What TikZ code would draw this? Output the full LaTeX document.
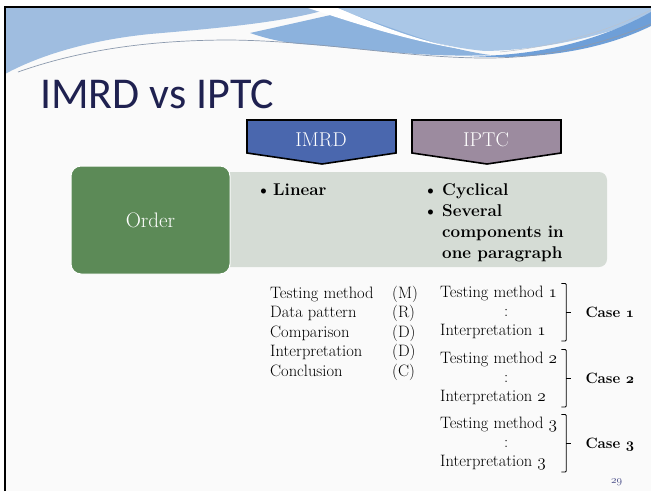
\documentclass[tikz,border=0pt]{standalone}
\usepackage{fontspec}
\newfontfamily\titlefont{Carlito}
\usetikzlibrary{positioning}
\definecolor{slidebg}{HTML}{FAFAFA}
\definecolor{titlenavy}{HTML}{1F2150}
\definecolor{pagenavy}{HTML}{4B4F8A}
\definecolor{imrdblue}{HTML}{4A67AE}
\definecolor{iptcmauve}{HTML}{9C8B9F}
\definecolor{ordergreen}{HTML}{5C8A57}
\definecolor{bandgrey}{HTML}{D5DCD5}
\definecolor{wavelight}{HTML}{9FBDE0}
\definecolor{wavepale}{HTML}{AAC7E7}
\definecolor{wavemid}{HTML}{8CB2DD}
\definecolor{wavedark}{HTML}{6E9FD8}
\definecolor{waveline}{HTML}{8C9AAE}
% old style figures taken from the math italic font
\newcommand{\osn}[1]{\ensuremath{\mathnormal{#1}}}
\newcommand{\bosn}[1]{{\boldmath\ensuremath{\mathnormal{#1}}}}

\begin{document}
\begin{tikzpicture}[x=1pt,y=-1pt,
    lst/.style={anchor=base west,inner sep=0pt,font=\fontsize{16.5}{19.5}\selectfont},
    bul/.style={anchor=base west,inner sep=0pt,font=\fontsize{17}{21}\selectfont\bfseries},
    head/.style={draw=black,line width=1.6pt},
    headtxt/.style={text=white,inner sep=0pt,font=\fontsize{20}{24}\selectfont},
    brk/.style={line width=0.8pt,rounded corners=1pt},
    casel/.style={anchor=west,inner sep=0pt,text height=11pt,text depth=0pt,font=\fontsize{15}{18}\selectfont\bfseries}]
  \useasboundingbox (0,0) rectangle (651,491);
  \fill[white] (0,0) rectangle (651,491);
  \fill[slidebg] (5,7) rectangle (651,491);

  % wave at the top
  \fill[wavelight] (5,7) -- (335,7) .. controls (290,22) and (220,28) .. (150,34) .. controls (90,40) and (40,55) .. (5,74) -- cycle;
  \fill[wavepale] (335,7) -- (651,7) -- (651,16) .. controls (600,38) and (540,50) .. (485,51) .. controls (430,46) and (385,28) .. (335,7) -- cycle;
  \fill[wavemid] (250,33) .. controls (300,22) and (330,15) .. (345,12) .. controls (400,30) and (440,48) .. (490,55) .. controls (420,58) and (360,48) .. (300,44) .. controls (280,42) and (265,38) .. (250,33) -- cycle;
  \fill[white] (305,7) -- (335,7) .. controls (385,28) and (430,46) .. (488,53) .. controls (420,45) and (360,25) .. (305,7) -- cycle;
  \fill[wavedark] (470,56) .. controls (550,56) and (610,35) .. (651,12) -- (651,26) .. controls (610,46) and (550,61) .. (470,56) -- cycle;
  \draw[waveline,line width=0.7pt] (18,72) .. controls (80,50) and (150,40) .. (230,40) .. controls (320,41) and (400,57) .. (480,58) .. controls (560,59) and (615,38) .. (651,24);
  \draw[waveline!60,line width=0.5pt] (500,52) .. controls (570,45) and (620,25) .. (651,10);
  \draw[black,line width=2pt] (5,491) -- (5,7) -- (651,7);

  \node[anchor=base west,inner sep=0pt,text=titlenavy,font=\titlefont\fontsize{44}{50}\selectfont] (title) at (40,108) {IMRD vs IPTC};

  % row
  \node[fill=bandgrey,rounded corners=8pt,minimum width=392pt,minimum height=95pt,inner sep=0pt] (band) at (411,219.5) {};
  \node[fill=ordergreen,draw=white,line width=1pt,rounded corners=10pt,minimum width=159pt,minimum height=108pt,headtxt,font=\fontsize{21}{24}\selectfont] (order) at (150.5,220) {Order};

  % headers
  \draw[head,fill=imrdblue] (247,120) -- (396,120) -- (396,153) -- (322,164) -- (247,153) -- cycle;
  \node[headtxt] (imrd) at (321,140) {IMRD};
  \draw[head,fill=iptcmauve] (412,120) -- (561,120) -- (561,153) -- (487,164) -- (412,153) -- cycle;
  \node[headtxt] (iptc) at (486,140) {IPTC};

  \node[bul] (lin) at (256,195) {\makebox[17pt][l]{\textbullet}Linear};
  \node[bul] (cyc) at (423,195) {\begin{tabular}[t]{@{}l@{}l@{}}
      \makebox[19pt][l]{\textbullet} & Cyclical\\
      \textbullet & Several\\
      & components in\\
      & one paragraph
    \end{tabular}};

  % lists under the row
  \node[lst] (imrdlist) at (270,298) {\begin{tabular}[t]{@{}p{122pt}@{}l@{}}
      Testing method & (M)\\
      Data pattern & (R)\\
      Comparison & (D)\\
      Interpretation & (D)\\
      Conclusion & (C)
    \end{tabular}};

  \node[lst,font=\fontsize{16.5}{19}\selectfont] (grpa) at (440,297) {\begin{tabular}[t]{@{}l@{}}
      Testing method \osn{1}\\ \hspace{64pt}:\\ Interpretation \osn{1}\end{tabular}};
  \node[lst,font=\fontsize{16.5}{19}\selectfont] (grpb) at (440,363) {\begin{tabular}[t]{@{}l@{}}
      Testing method \osn{2}\\ \hspace{64pt}:\\ Interpretation \osn{2}\end{tabular}};
  \node[lst,font=\fontsize{16.5}{19}\selectfont] (grpc) at (440,428) {\begin{tabular}[t]{@{}l@{}}
      Testing method \osn{3}\\ \hspace{64pt}:\\ Interpretation \osn{3}\end{tabular}};

  \draw[brk] ([xshift=4pt]grpa.north east) -- ++(5,0) |- ([xshift=4pt]grpa.south east);
  \draw[brk] ([xshift=9pt]grpa.east) -- ++(5,0) coordinate (ta);
  \draw[brk] ([xshift=4pt]grpb.north east) -- ++(5,0) |- ([xshift=4pt]grpb.south east);
  \draw[brk] ([xshift=9pt]grpb.east) -- ++(5,0) coordinate (tb);
  \draw[brk] ([xshift=4pt]grpc.north east) -- ++(5,0) |- ([xshift=4pt]grpc.south east);
  \draw[brk] ([xshift=9pt]grpc.east) -- ++(5,0) coordinate (tc);

  \node[casel,right=14pt of ta] (casea) {Case \bosn{1}};
  \node[casel,right=14pt of tb] (caseb) {Case \bosn{2}};
  \node[casel,right=14pt of tc] (casec) {Case \bosn{3}};

  \node[anchor=base west,inner sep=0pt,text=pagenavy,font=\fontsize{11}{13}\selectfont] (pnum) at (611,483) {\osn{29}};
\end{tikzpicture}
\end{document}
